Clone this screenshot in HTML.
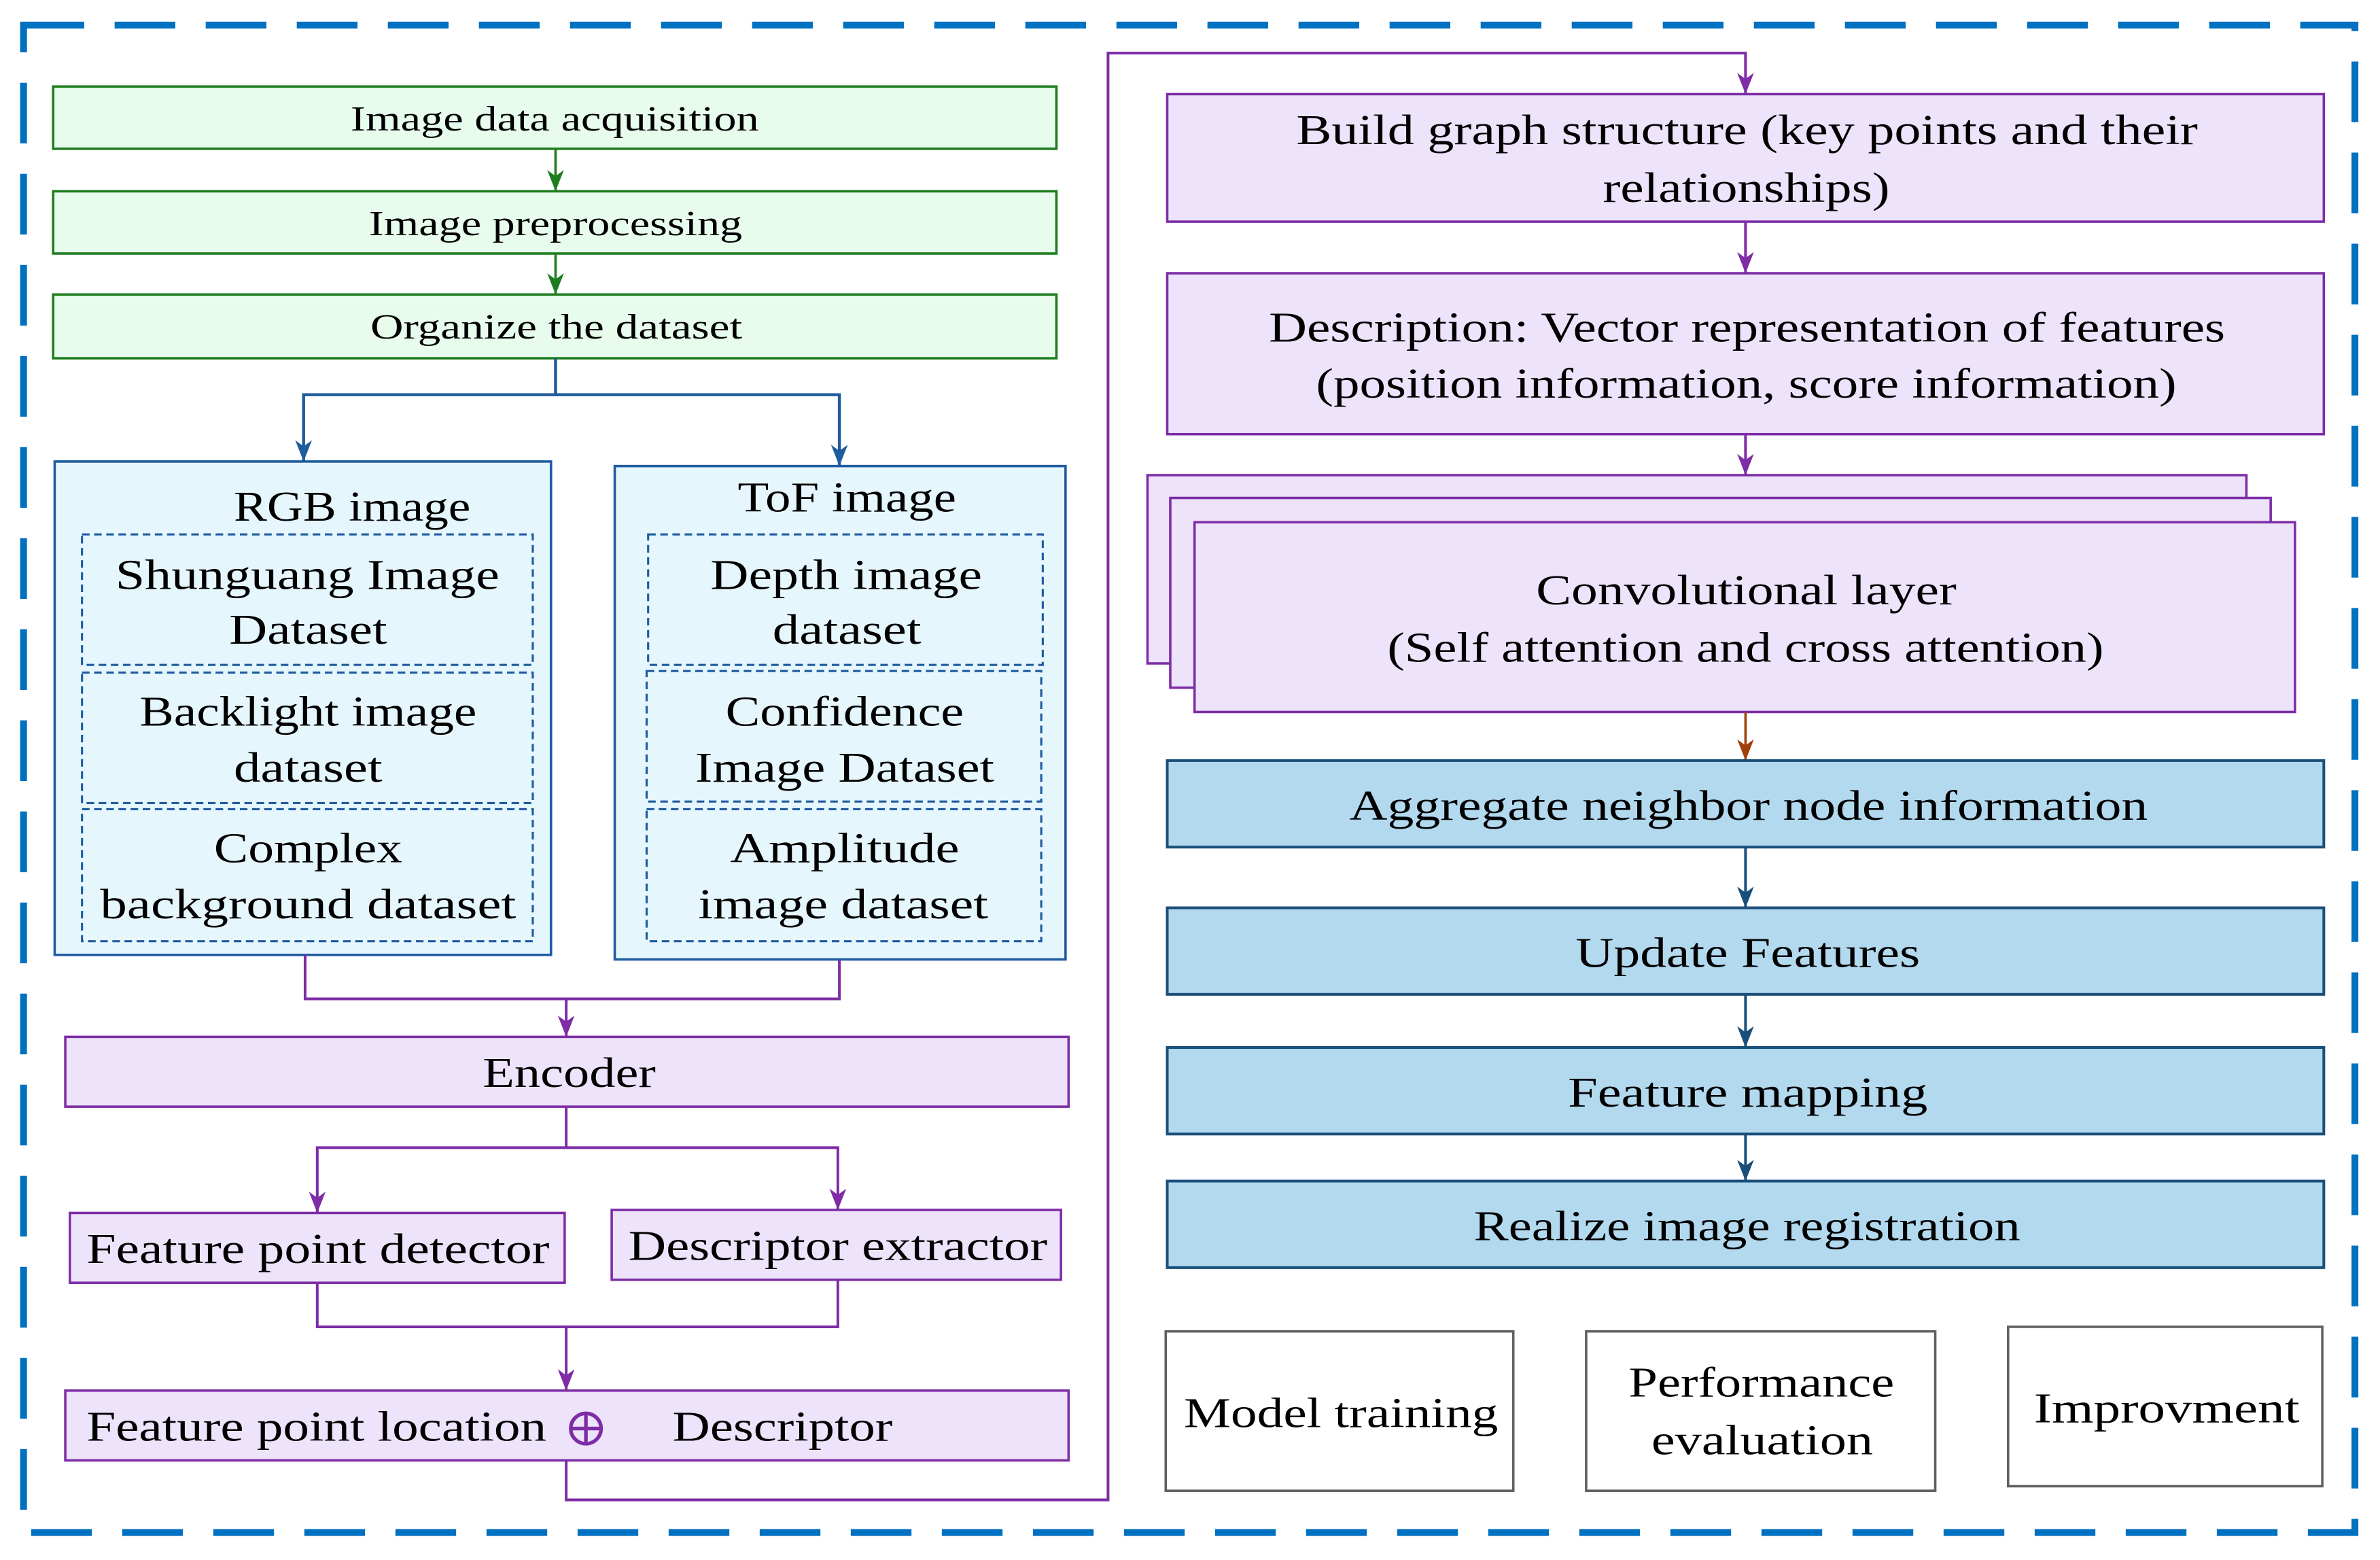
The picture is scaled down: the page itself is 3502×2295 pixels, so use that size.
<!DOCTYPE html>
<html><head><meta charset="utf-8"><style>html,body{margin:0;padding:0;background:#fff}svg{display:block}</style></head>
<body>
<svg width="3502" height="2295" viewBox="0 0 1568 1027.6" xmlns="http://www.w3.org/2000/svg" font-family="'Liberation Serif', serif" font-size="27" fill="#000">
<defs>
<marker id="ag" markerWidth="11" markerHeight="14" refX="5.5" refY="14" markerUnits="userSpaceOnUse" viewBox="0 0 11 14"><path d="M0,0 L5.5,4 L11,0 L5.5,14 Z" fill="#1E7D1E"/></marker>
<marker id="ab" markerWidth="11" markerHeight="14" refX="5.5" refY="14" markerUnits="userSpaceOnUse" viewBox="0 0 11 14"><path d="M0,0 L5.5,4 L11,0 L5.5,14 Z" fill="#1F5C9F"/></marker>
<marker id="ap" markerWidth="11" markerHeight="14" refX="5.5" refY="14" markerUnits="userSpaceOnUse" viewBox="0 0 11 14"><path d="M0,0 L5.5,4 L11,0 L5.5,14 Z" fill="#7E2DA6"/></marker>
<marker id="ar" markerWidth="11" markerHeight="14" refX="5.5" refY="14" markerUnits="userSpaceOnUse" viewBox="0 0 11 14"><path d="M0,0 L5.5,4 L11,0 L5.5,14 Z" fill="#A0400A"/></marker>
<marker id="ad" markerWidth="11" markerHeight="14" refX="5.5" refY="14" markerUnits="userSpaceOnUse" viewBox="0 0 11 14"><path d="M0,0 L5.5,4 L11,0 L5.5,14 Z" fill="#1A4F7A"/></marker>
</defs>

<rect x="15.5" y="16.5" width="1536" height="993" fill="none" stroke="#0070C0" stroke-width="4.5" stroke-dasharray="40,20"/>

<g fill="#E8FCEE" stroke="#1E7D1E" stroke-width="1.6">
<rect x="35" y="57" width="661" height="41"/>
<rect x="35" y="126" width="661" height="41"/>
<rect x="35" y="194" width="661" height="42"/>
</g>
<g font-size="23">
<text x="231" y="86" textLength="269" lengthAdjust="spacingAndGlyphs">Image data acquisition</text>
<text x="243" y="155" textLength="246" lengthAdjust="spacingAndGlyphs">Image preprocessing</text>
<text x="244" y="223" textLength="245" lengthAdjust="spacingAndGlyphs">Organize the dataset</text>
</g>
<g stroke="#1E7D1E" stroke-width="1.6" fill="none">
<line x1="366" y1="98" x2="366" y2="126" marker-end="url(#ag)"/>
<line x1="366" y1="167" x2="366" y2="194" marker-end="url(#ag)"/>
</g>

<g stroke="#1F5C9F" stroke-width="2" fill="none">
<path d="M366,236 V260 H200 V304" marker-end="url(#ab)"/>
<path d="M366,260 H553 V307" marker-end="url(#ab)"/>
</g>

<g fill="#E6F6FD" stroke="#1F5C9F" stroke-width="1.6">
<rect x="36" y="304" width="327" height="325"/>
<rect x="405" y="307" width="297" height="325"/>
</g>
<g fill="none" stroke="#1F5C9F" stroke-width="1.4" stroke-dasharray="5,3">
<rect x="54" y="352" width="297" height="86"/>
<rect x="54" y="443" width="297" height="86"/>
<rect x="54" y="533" width="297" height="87"/>
<rect x="427" y="352" width="260" height="86"/>
<rect x="426" y="442" width="260" height="86"/>
<rect x="426" y="533" width="260" height="87"/>
</g>
<g font-size="28">
<text x="154" y="343" textLength="156" lengthAdjust="spacingAndGlyphs">RGB image</text>
<text x="76" y="388" textLength="253" lengthAdjust="spacingAndGlyphs">Shunguang Image</text>
<text x="151" y="424" textLength="104" lengthAdjust="spacingAndGlyphs">Dataset</text>
<text x="92" y="478" textLength="222" lengthAdjust="spacingAndGlyphs">Backlight image</text>
<text x="154" y="515" textLength="98" lengthAdjust="spacingAndGlyphs">dataset</text>
<text x="141" y="568" textLength="124" lengthAdjust="spacingAndGlyphs">Complex</text>
<text x="66" y="605" textLength="274" lengthAdjust="spacingAndGlyphs">background dataset</text>
<text x="486" y="337" textLength="144" lengthAdjust="spacingAndGlyphs">ToF image</text>
<text x="468" y="388" textLength="179" lengthAdjust="spacingAndGlyphs">Depth image</text>
<text x="509" y="424" textLength="98" lengthAdjust="spacingAndGlyphs">dataset</text>
<text x="478" y="478" textLength="157" lengthAdjust="spacingAndGlyphs">Confidence</text>
<text x="458" y="515" textLength="197" lengthAdjust="spacingAndGlyphs">Image Dataset</text>
<text x="481" y="568" textLength="151" lengthAdjust="spacingAndGlyphs">Amplitude</text>
<text x="460" y="605" textLength="191" lengthAdjust="spacingAndGlyphs">image dataset</text>
</g>

<g stroke="#7E2DA6" stroke-width="1.8" fill="none">
<path d="M201,629 V658 H553 V632"/>
<line x1="373" y1="658" x2="373" y2="683" marker-end="url(#ap)"/>
<path d="M373,729 V756 H209 V799" marker-end="url(#ap)"/>
<path d="M373,756 H552 V797" marker-end="url(#ap)"/>
<path d="M209,845 V874 H552 V843"/>
<line x1="373" y1="874" x2="373" y2="916" marker-end="url(#ap)"/>
<path d="M373,962 V988 H730 V35 H1150 V62" marker-end="url(#ap)"/>
</g>

<g fill="#EDE3FA" stroke="#7E2DA6" stroke-width="1.6">
<rect x="43" y="683" width="661" height="46"/>
<rect x="46" y="799" width="326" height="46"/>
<rect x="403" y="797" width="296" height="46"/>
<rect x="43" y="916" width="661" height="46"/>
</g>
<g font-size="28">
<text x="318" y="716" textLength="114" lengthAdjust="spacingAndGlyphs">Encoder</text>
<text x="57" y="832" textLength="305" lengthAdjust="spacingAndGlyphs">Feature point detector</text>
<text x="414" y="830" textLength="276" lengthAdjust="spacingAndGlyphs">Descriptor extractor</text>
<text x="57" y="949" textLength="303" lengthAdjust="spacingAndGlyphs">Feature point location</text>
<text x="443" y="949" textLength="145" lengthAdjust="spacingAndGlyphs">Descriptor</text>
</g>
<g stroke="#7E2DA6" stroke-width="2.4" fill="none">
<circle cx="386" cy="941" r="10"/>
<line x1="376" y1="941" x2="396" y2="941"/>
<line x1="386" y1="931" x2="386" y2="951"/>
</g>

<g fill="#EDE3FA" stroke="#7E2DA6" stroke-width="1.6">
<rect x="769" y="62" width="762" height="84"/>
<rect x="769" y="180" width="762" height="106"/>
<rect x="756" y="313" width="724" height="124"/>
<rect x="771" y="328" width="725" height="125"/>
<rect x="787" y="344" width="725" height="125"/>
</g>
<g stroke="#7E2DA6" stroke-width="1.8" fill="none">
<line x1="1150" y1="146" x2="1150" y2="180" marker-end="url(#ap)"/>
<line x1="1150" y1="286" x2="1150" y2="313" marker-end="url(#ap)"/>
</g>
<line x1="1150" y1="469" x2="1150" y2="501" stroke="#A0400A" stroke-width="1.6" marker-end="url(#ar)"/>
<g font-size="28">
<text x="854" y="95" textLength="594" lengthAdjust="spacingAndGlyphs">Build graph structure (key points and their</text>
<text x="1056" y="133" textLength="189" lengthAdjust="spacingAndGlyphs">relationships)</text>
<text x="836" y="225" textLength="630" lengthAdjust="spacingAndGlyphs">Description: Vector representation of features</text>
<text x="867" y="262" textLength="567" lengthAdjust="spacingAndGlyphs">(position information, score information)</text>
<text x="1012" y="398" textLength="277" lengthAdjust="spacingAndGlyphs">Convolutional layer</text>
<text x="914" y="436" textLength="472" lengthAdjust="spacingAndGlyphs">(Self attention and cross attention)</text>
</g>

<g fill="#B3D9EF" stroke="#1A4F7A" stroke-width="1.8">
<rect x="769" y="501" width="762" height="57"/>
<rect x="769" y="598" width="762" height="57"/>
<rect x="769" y="690" width="762" height="57"/>
<rect x="769" y="778" width="762" height="57"/>
</g>
<g stroke="#1A4F7A" stroke-width="1.8" fill="none">
<line x1="1150" y1="558" x2="1150" y2="598" marker-end="url(#ad)"/>
<line x1="1150" y1="655" x2="1150" y2="690" marker-end="url(#ad)"/>
<line x1="1150" y1="747" x2="1150" y2="778" marker-end="url(#ad)"/>
</g>
<g font-size="28">
<text x="889" y="540" textLength="526" lengthAdjust="spacingAndGlyphs">Aggregate neighbor node information</text>
<text x="1038" y="637" textLength="227" lengthAdjust="spacingAndGlyphs">Update Features</text>
<text x="1033" y="729" textLength="237" lengthAdjust="spacingAndGlyphs">Feature mapping</text>
<text x="971" y="817" textLength="360" lengthAdjust="spacingAndGlyphs">Realize image registration</text>
</g>

<g fill="#fff" stroke="#606060" stroke-width="1.6">
<rect x="768" y="877" width="229" height="105"/>
<rect x="1045" y="877" width="230" height="105"/>
<rect x="1323" y="874" width="207" height="105"/>
</g>
<g font-size="28">
<text x="780" y="940" textLength="207" lengthAdjust="spacingAndGlyphs">Model training</text>
<text x="1073" y="920" textLength="175" lengthAdjust="spacingAndGlyphs">Performance</text>
<text x="1088" y="958" textLength="146" lengthAdjust="spacingAndGlyphs">evaluation</text>
<text x="1340" y="937" textLength="175" lengthAdjust="spacingAndGlyphs">Improvment</text>
</g>
</svg>
</body></html>
